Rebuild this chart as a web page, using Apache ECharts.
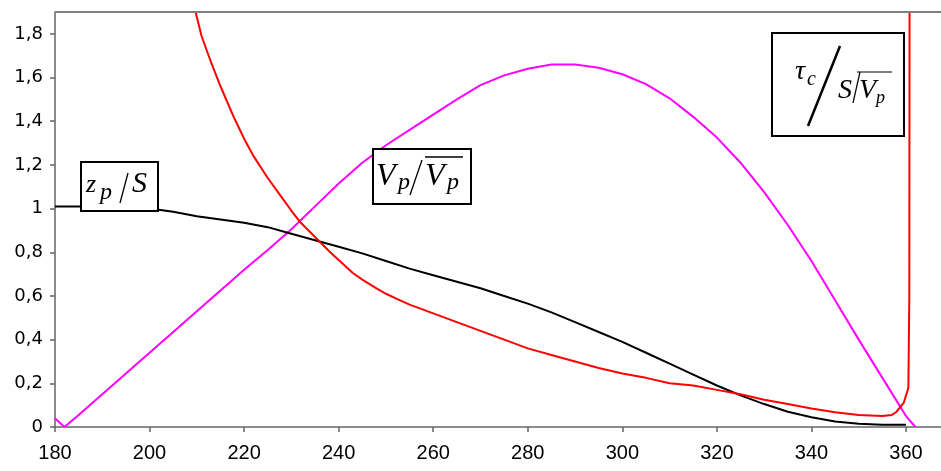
<!DOCTYPE html>
<html>
<head>
<meta charset="utf-8">
<script src="https://cdn.jsdelivr.net/npm/echarts@6/dist/echarts.min.js"></script>
<style>
html,body{margin:0;padding:0;background:#fff;}
#chart{width:941px;height:471px;}
</style>
</head>
<body>
<div id="chart"></div>
<script>
// x-axis tick labels
var xTicks = [180, 200, 220, 240, 260, 280, 300, 320, 340, 360];
var yTicks = [0, 0.2, 0.4, 0.6, 0.8, 1, 1.2, 1.4, 1.6, 1.8];

// z_p / S (black)
var zX = [180,185,190,195,200,205,210,215,220,225,230,235,240,245,250,255,260,265,270,275,280,285,290,295,300,305,310,315,320,325,330,335,340,345,350,355,360];
var zY = [1.01,1.01,1.01,1.01,1.0,0.985,0.965,0.95,0.935,0.915,0.885,0.855,0.825,0.795,0.76,0.725,0.695,0.665,0.635,0.6,0.565,0.525,0.48,0.435,0.39,0.34,0.29,0.24,0.19,0.145,0.105,0.07,0.045,0.025,0.015,0.01,0.01];

// V_p / mean V_p (magenta)
var vX = [180,182,185,190,195,200,205,210,215,220,225,230,235,240,245,250,255,260,265,270,275,280,285,290,295,300,305,310,315,320,325,330,335,340,345,350,355,360,362];
var vY = [0.04,0,0.055,0.15,0.245,0.34,0.435,0.53,0.625,0.72,0.81,0.905,1.01,1.115,1.21,1.29,1.36,1.43,1.5,1.565,1.61,1.64,1.66,1.66,1.645,1.615,1.57,1.505,1.42,1.325,1.21,1.075,0.925,0.76,0.58,0.4,0.225,0.05,0];

// tau_c / (S / mean V_p) (red)
var tX = [209.5,211,213,215,218,220,222,225,228,230,232,235,238,240,243,245,248,250,253,255,260,265,270,275,280,285,290,295,300,305,310,315,320,325,330,335,340,345,350,355,357,358,359.5,360.5,360.7,360.75];
var tY = [1.92,1.79,1.67,1.56,1.41,1.32,1.24,1.14,1.05,0.99,0.935,0.87,0.805,0.765,0.705,0.675,0.635,0.61,0.58,0.56,0.52,0.48,0.44,0.40,0.36,0.33,0.30,0.27,0.245,0.225,0.20,0.19,0.17,0.15,0.125,0.105,0.085,0.068,0.055,0.05,0.055,0.07,0.11,0.18,0.6,1.95];

function pairs(xs, ys){ var out=[]; for(var i=0;i<xs.length;i++){ out.push([xs[i], ys[i]]); } return out; }

var chart = echarts.init(document.getElementById('chart'), null, {renderer:'canvas'});

var serif = '"Liberation Serif","Times New Roman",serif';
function txt(t, x, y, size){
  return {type:'text', x:x, y:y, z:100, style:{text:t, font:'italic '+size+'px '+serif, fill:'#000', verticalAlign:'middle', align:'left'}};
}
function ln(x1,y1,x2,y2,w){
  return {type:'line', z:100, shape:{x1:x1,y1:y1,x2:x2,y2:y2}, style:{stroke:'#000', lineWidth:w||1.3}};
}
function box(x,y,w,h){
  return {type:'rect', z:99, shape:{x:x,y:y,width:w,height:h}, style:{fill:'#fff', stroke:'#000', lineWidth:2}};
}

var option = {
  animation:false,
  backgroundColor:'#fff',
  grid:{left:55, right:0, top:12, bottom:44, containLabel:false},
  xAxis:{
    type:'value', min:180, max:367.4, interval:20,
    axisLine:{show:true, lineStyle:{color:'#666', width:1.5}},
    axisTick:{show:true, length:5, inside:false, lineStyle:{color:'#666', width:1.5}},
    axisLabel:{show:true, margin:16, showMaxLabel:false, color:'#000', fontSize:20, fontFamily:'"Liberation Sans",Arial,sans-serif',
      formatter:function(v){ return xTicks.indexOf(v) >= 0 ? String(v) : ''; }},
    splitLine:{show:false}
  },
  yAxis:{
    type:'value', min:0, max:1.9, interval:0.2,
    axisLine:{show:true, lineStyle:{color:'#666', width:1.5}},
    axisTick:{show:true, length:5, lineStyle:{color:'#666', width:1.5}},
    axisLabel:{show:true, margin:12, showMaxLabel:false, color:'#000', fontSize:18, fontFamily:'"DejaVu Sans",sans-serif',
      formatter:function(v){
        var r = Math.round(v*10)/10;
        var ok = false; for (var i=0;i<yTicks.length;i++){ if (Math.abs(yTicks[i]-r)<1e-9) ok=true; }
        if(!ok) return '';
        if (Math.abs(r-Math.round(r))<1e-9) return String(Math.round(r));
        return r.toFixed(1).replace('.', ',');
      }},
    splitLine:{show:false}
  },
  series:[
    {type:'line', data:pairs(zX,zY), showSymbol:false, clip:true, lineStyle:{color:'#000', width:2}, itemStyle:{color:'#000'}, z:3},
    {type:'line', data:pairs(vX,vY), showSymbol:false, clip:true, lineStyle:{color:'#ff00ff', width:2}, itemStyle:{color:'#ff00ff'}, z:2},
    {type:'line', data:pairs(tX,tY), showSymbol:false, clip:true, lineStyle:{color:'#ff0000', width:2}, itemStyle:{color:'#ff0000'}, z:4}
  ],
  graphic:[
    // top frame line
    {type:'line', z:50, shape:{x1:55,y1:12,x2:941,y2:12}, style:{stroke:'#808080', lineWidth:2}},
    // box 1: z_p / S
    box(81,162,77,49),
    txt('z', 86, 185, 26),
    txt('p', 100, 193, 24),
    ln(128,173,120,203,1.3),
    txt('S', 132, 184, 30),
    // box 2: V_p / mean V_p
    box(373,149,98,55),
    txt('V', 376, 177, 32),
    txt('p', 398, 183, 24),
    ln(422,160,410,195,1.3),
    ln(425,157,463,157,1.3),
    txt('V', 425, 177, 32),
    txt('p', 447, 183, 24),
    // box 3: tau_c / (S / mean V_p)
    box(772,33,132,103),
    txt('\u03C4', 795, 72, 28),
    txt('c', 807, 80, 20),
    ln(840,46,808,126,2.5),
    txt('S', 838, 91, 28),
    ln(860,72,853,103,1.2),
    ln(857,72,892,72,1.2),
    txt('V', 859, 91, 28),
    txt('p', 876, 98, 18)
  ]
};
chart.setOption(option);
</script>
</body>
</html>
